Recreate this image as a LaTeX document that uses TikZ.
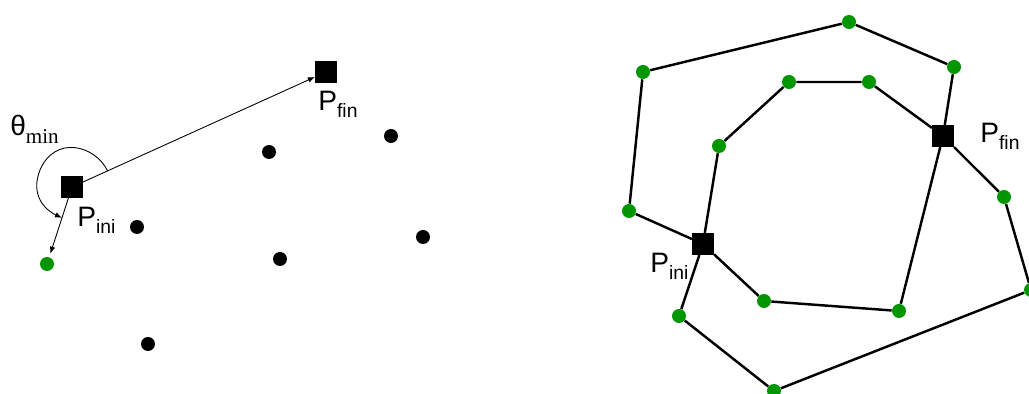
\documentclass[tikz,border=0pt]{standalone}
\usepackage{fontspec}
\setmainfont{Liberation Sans}
\newfontfamily\minfont{Liberation Serif}
\usepackage{xcolor}
\usetikzlibrary{arrows.meta, calc}

\definecolor{ptgreen}{RGB}{0,150,0}
\newcommand{\lowsub}[1]{\raisebox{-3.5pt}{\fontsize{11}{12}\selectfont #1}}

\begin{document}
\begin{tikzpicture}[
    x=0.02cm, y=-0.02cm,
    dot/.style={circle, fill=black, inner sep=0pt, minimum size=0.28cm},
    gdot/.style={dot, fill=ptgreen},
    endpt/.style={rectangle, fill=black, inner sep=0pt, minimum size=0.43cm},
    lbl/.style={font=\fontsize{16}{18}\selectfont, inner sep=0pt, anchor=base west},
    arr/.style={draw=black, line width=0.5pt, -{Latex[length=1.4mm, width=1.1mm]}},
    edge/.style={draw=black, line width=1.4pt}
]
    \useasboundingbox (0,0) rectangle (1029,394);

    % Left: starting the hull
    \node[endpt] (Pini) at (72,187) {};
    \node[endpt] (Pfin) at (326,72) {};
    \node[gdot] (G0) at (47,264) {};
    \node[dot] (D1) at (269,152) {};
    \node[dot] (D2) at (391,136) {};
    \node[dot] (D3) at (137,227) {};
    \node[dot] (D4) at (423,237) {};
    \node[dot] (D5) at (280,259) {};
    \node[dot] (D6) at (148,344) {};

    \node[lbl] (L_ini) at (77,227) {P\lowsub{ini}};
    \node[lbl] (L_fin) at (318,111) {P\lowsub{fin}};
    \node[lbl] (L_theta) at (10,136) {θ\raisebox{-4.5pt}{\minfont\fontsize{12}{12}\selectfont min}};

    \draw[arr] (Pini) -- (Pfin);
    \draw[arr, shorten >=2pt] (Pini) -- (G0);

    \coordinate (A_from) at ($(Pini)!0.14!(Pfin)$);
    \coordinate (A_to) at ($(Pini)!0.4!(G0)$);
    \draw[arr] (A_from) .. controls (95,145) and (55,135) .. (40,170)
                        .. controls (30,195) and (45,210) .. (A_to);

    % Right: the two chains
    \node[endpt] (R_ini) at (703,244) {};
    \node[endpt] (R_fin) at (943,136) {};

    \node[gdot] (O1) at (643,72) {};
    \node[gdot] (O2) at (849,22) {};
    \node[gdot] (O3) at (954,67) {};
    \node[gdot] (O4) at (1004,197) {};
    \node[gdot] (O5) at (1031,290) {};
    \node[gdot] (O6) at (774,391) {};
    \node[gdot] (O7) at (679,316) {};
    \node[gdot] (O8) at (629,211) {};

    \node[gdot] (I1) at (719,146) {};
    \node[gdot] (I2) at (789,82) {};
    \node[gdot] (I3) at (869,82) {};
    \node[gdot] (I4) at (899,311) {};
    \node[gdot] (I5) at (764,301) {};

    \node[lbl] (LR_ini) at (650,273) {P\lowsub{ini}};
    \node[lbl] (LR_fin) at (980,143) {P\lowsub{fin}};

    \draw[edge] (O1) -- (O2) -- (O3) -- (R_fin) -- (O4) -- (O5) -- (O6)
                -- (O7) -- (R_ini) -- (O8) -- (O1);
    \draw[edge] (R_ini) -- (I1) -- (I2) -- (I3) -- (R_fin) -- (I4) -- (I5) -- (R_ini);
\end{tikzpicture}
\end{document}
